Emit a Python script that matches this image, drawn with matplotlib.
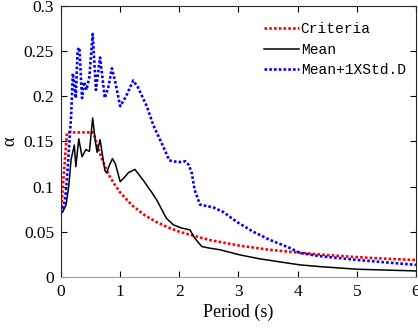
import numpy as np
import matplotlib
matplotlib.use("Agg")
from matplotlib import pyplot as plt

# criteria spectrum
crit_t = [0, 0.1, 0.55, 0.6, 0.7, 0.8, 0.9, 1.0, 1.2, 1.4, 1.6, 1.8, 2.0, 2.5,
          3.0, 3.5, 4.0, 4.5, 5.0, 5.5, 6.0]
crit_a = [0.072, 0.16, 0.16, 0.148, 0.129, 0.114, 0.103, 0.0934, 0.0793, 0.069,
          0.0612, 0.0551, 0.050, 0.041, 0.0348, 0.0302, 0.0269, 0.0242, 0.0219,
          0.0201, 0.0187]

mean_t = [0, 0.03, 0.085, 0.13, 0.17, 0.225, 0.25, 0.3, 0.355, 0.42, 0.48, 0.535,
          0.58, 0.61, 0.66, 0.70, 0.74, 0.77, 0.82, 0.87, 0.92, 1.0, 1.07, 1.14,
          1.25, 1.39, 1.53, 1.62, 1.78, 1.9, 2.04, 2.12, 2.18, 2.26, 2.38, 2.5,
          2.69, 3.02, 3.36, 3.7, 4.04, 4.37, 5.0, 6.0]
mean_a = [0.071, 0.072, 0.08, 0.10, 0.13, 0.146, 0.122, 0.153, 0.133, 0.141,
          0.139, 0.176, 0.15, 0.138, 0.152, 0.135, 0.118, 0.115, 0.124, 0.131,
          0.125, 0.1055, 0.110, 0.1155, 0.119, 0.107, 0.094, 0.085, 0.065,
          0.0576, 0.054, 0.053, 0.052, 0.043, 0.0336, 0.032, 0.030, 0.0244,
          0.020, 0.0166, 0.0133, 0.0114, 0.0085, 0.0066]

std_t = [0, 0.056, 0.085, 0.11, 0.14, 0.17, 0.2, 0.25, 0.28, 0.31, 0.355, 0.39,
         0.43, 0.48, 0.535, 0.59, 0.66, 0.74, 0.80, 0.86, 0.92, 1.0, 1.1, 1.22,
         1.3, 1.45, 1.56, 1.73, 1.83, 1.98, 2.1, 2.16, 2.21, 2.26, 2.35, 2.57,
         2.74, 2.97, 3.25, 3.53, 3.87, 4.04, 4.37, 5.0, 6.0]
std_a = [0.0705, 0.0815, 0.096, 0.118, 0.148, 0.1775, 0.2255, 0.198, 0.251, 0.254,
         0.198, 0.216, 0.207, 0.222, 0.269, 0.207, 0.243, 0.198, 0.21, 0.231,
         0.215, 0.189, 0.2, 0.2175, 0.21, 0.189, 0.168, 0.144, 0.129, 0.127,
         0.128, 0.124, 0.115, 0.096, 0.080, 0.077, 0.072, 0.061, 0.050, 0.041,
         0.032, 0.0265, 0.023, 0.0188, 0.0133]

plt.rcParams["font.family"] = ["Liberation Serif", "DejaVu Serif"]
plt.rcParams["mathtext.fontset"] = "custom"
plt.rcParams["mathtext.rm"] = "Liberation Serif"

fig = plt.figure(figsize=(4.18, 3.32), dpi=100)
ax = fig.add_axes([0.146, 0.166, 0.849, 0.816])

dots = (0, (1, 0.8))
ax.plot(crit_t, crit_a, color="red", linestyle=dots, linewidth=1.9, label="Criteria")
ax.plot(mean_t, mean_a, color="black", linestyle="-", linewidth=1.1, label="Mean")
ax.plot(std_t, std_a, color="blue", linestyle=dots, linewidth=1.9, label="Mean+1XStd.D")

ax.set_xlim(0, 6)
ax.set_ylim(0, 0.3)
ax.set_xticks(range(7))
ax.set_yticks([0, 0.05, 0.1, 0.15, 0.2, 0.25, 0.3])
ax.set_yticklabels(["0", "0.05", "0.1", "0.15", "0.2", "0.25", "0.3"])
ax.tick_params(direction="in", top=True, right=True, length=4, labelsize=12.5,
               pad=5)
for s in ax.spines.values():
    s.set_color("#262626")
    s.set_linewidth(0.8)
ax.spines["bottom"].set_color("#a0a0a0")

ax.set_xlabel("Period (s)", fontsize=13, labelpad=3)
ax.set_ylabel("α", fontsize=13, labelpad=4)

ax.legend(loc="upper left", bbox_to_anchor=(0.55, 0.967), frameon=False,
          borderpad=0, handlelength=2.4, handletextpad=0.15, labelspacing=0.45,
          prop={"family": ["Liberation Mono", "DejaVu Sans Mono"], "size": 10.5})

fig.savefig("out.png", dpi=100)
